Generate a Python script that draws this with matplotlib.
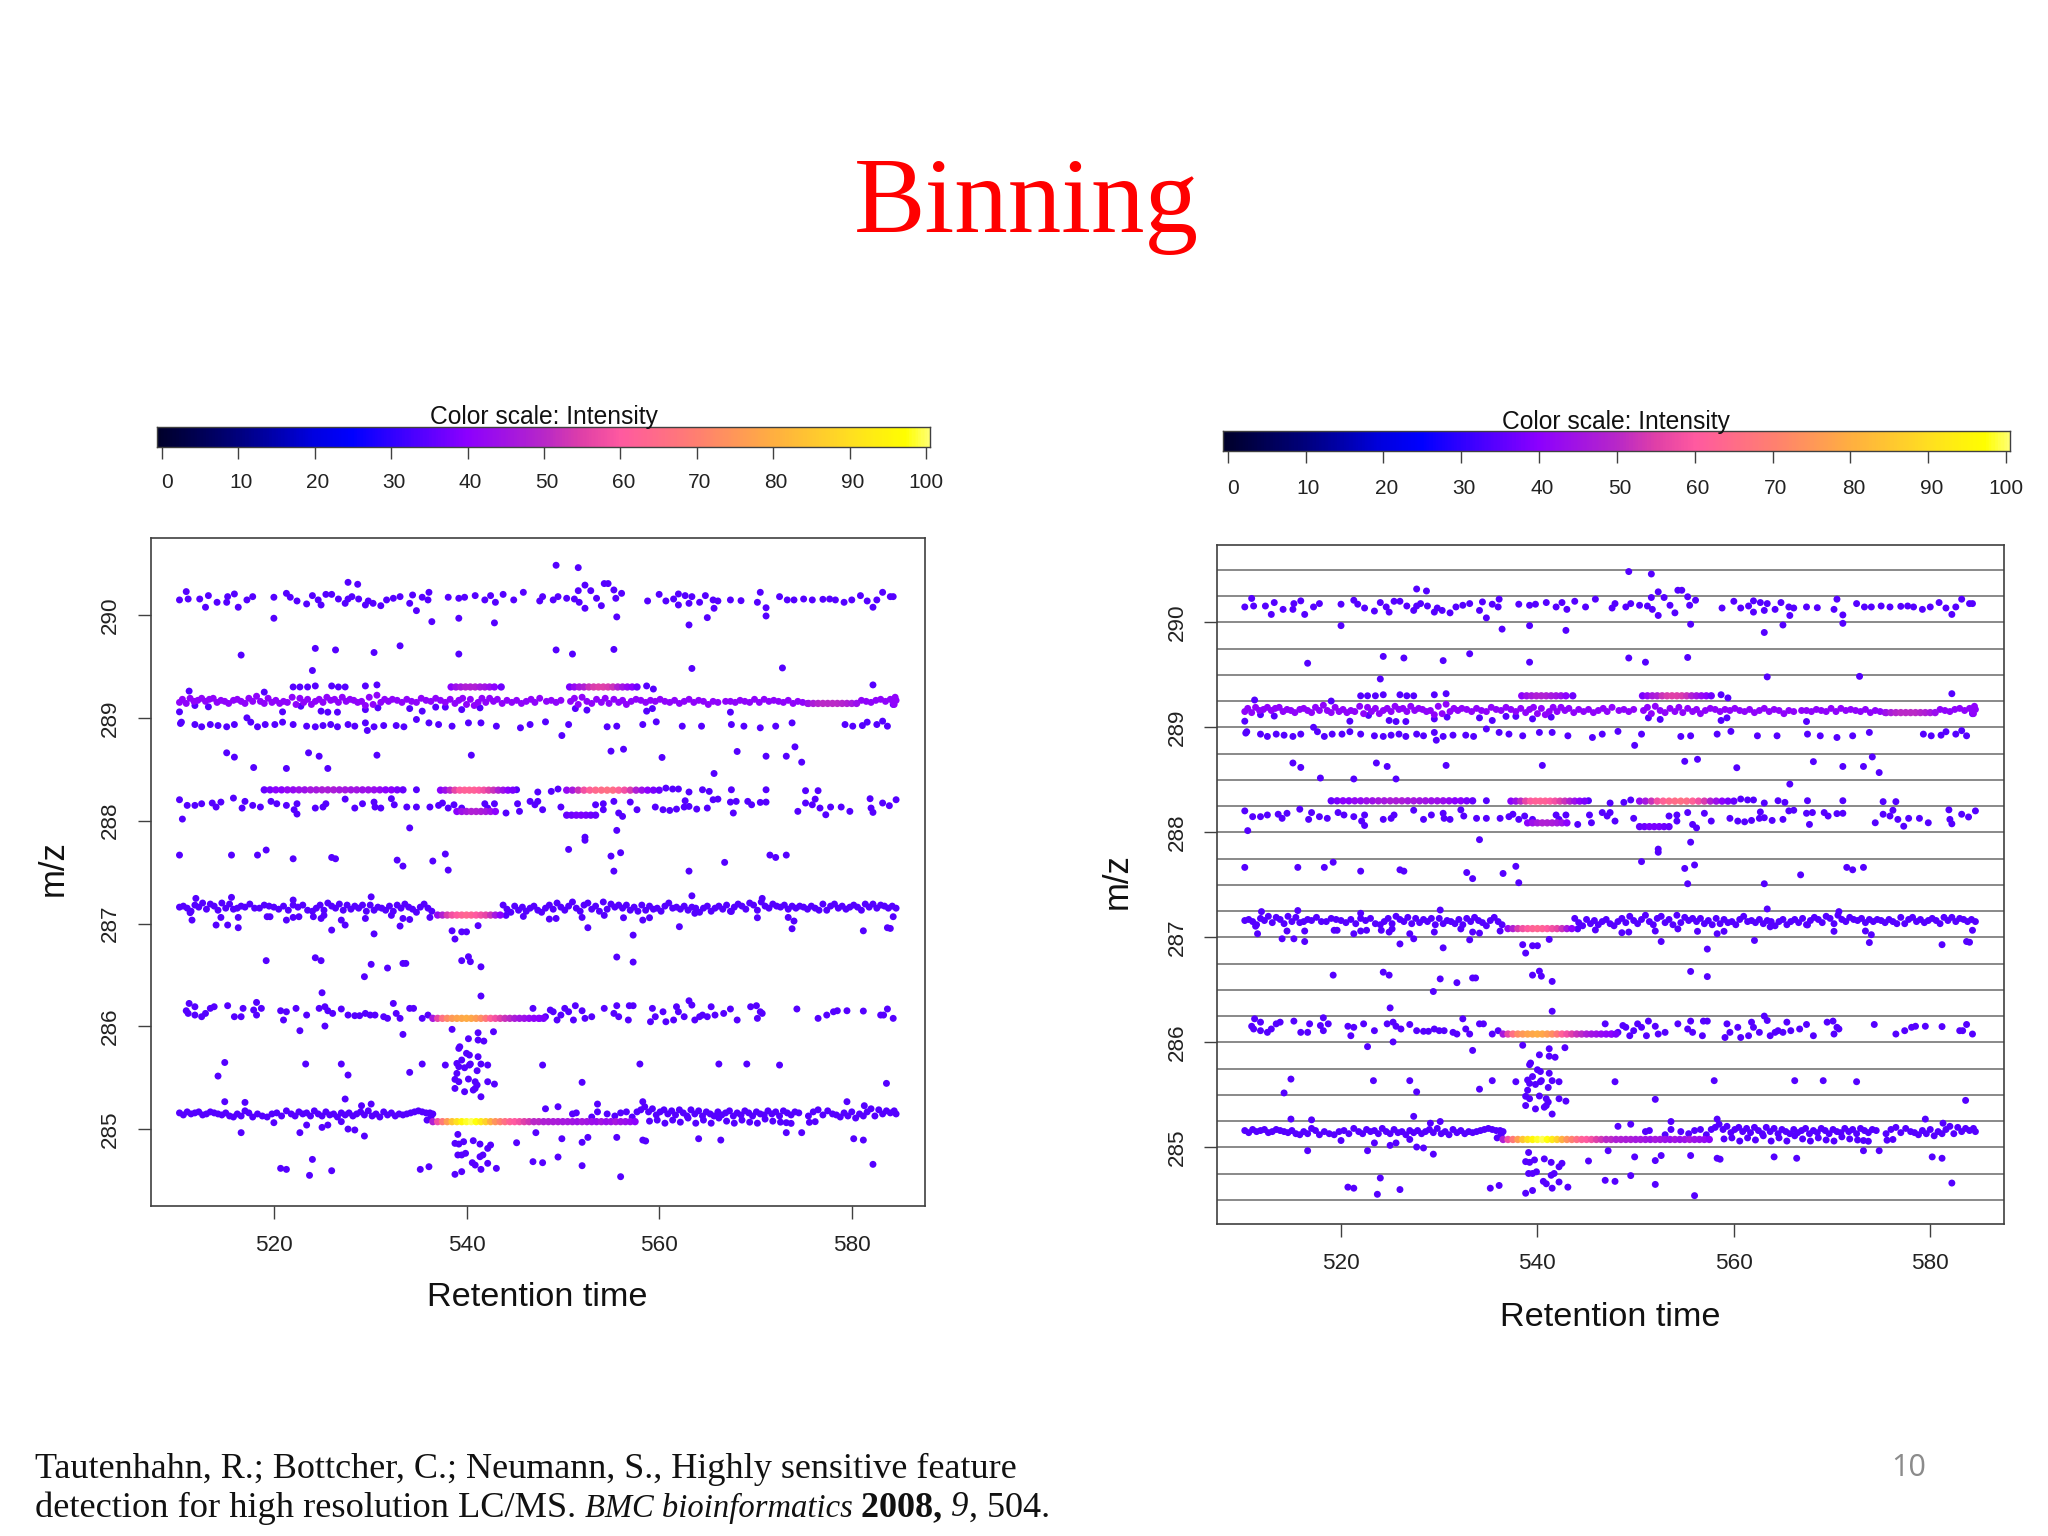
import numpy as np
import matplotlib
matplotlib.use("Agg")
import matplotlib.pyplot as plt
from matplotlib.colors import LinearSegmentedColormap

W, H = 2048, 1536

# values, both panels show the same peaks
# row around m/z 290
rt_290 = [510.2, 510.9, 511.1, 512.3, 512.9, 513.2, 514.1, 515.1, 515.2, 515.9,
          516.3, 517.2, 517.8, 520.0, 521.3, 521.7, 522.4, 523.4, 524.0, 524.6,
          524.9, 525.4, 526.0, 526.7, 527.4, 527.7, 528.1, 528.8, 529.5, 529.8,
          530.3, 531.1, 531.7, 532.4, 533.1, 534.1, 534.4, 535.4, 536.0, 536.1,
          538.1, 539.2, 539.8, 540.9, 541.9, 542.5, 543.0, 543.8, 544.9, 545.9,
          547.6, 547.9, 549.0, 549.5, 550.4, 551.2, 551.7, 551.6, 552.3, 552.9,
          553.5, 554.0, 552.3, 554.3, 554.7, 555.3, 555.5, 556.1, 558.8, 560.0,
          560.7, 561.5, 562.0, 562.7, 562.0, 563.1, 563.4, 564.2, 564.8, 565.6,
          566.1, 565.7, 567.4, 568.5, 570.2, 570.5, 571.1, 572.5, 573.3, 574.0,
          575.0, 575.9, 577.0, 577.7, 578.3, 579.2, 580.0, 580.9, 581.6, 582.2,
          582.6, 583.2, 584.0, 584.3, 527.7, 528.7, 549.3, 551.6, 520.0, 534.8,
          536.4, 539.2, 542.9, 555.6, 563.1, 565.0, 571.1]
mz_290 = [290.146, 290.227, 290.155, 290.155, 290.075, 290.188, 290.123, 290.123, 290.178, 290.204,
          290.075, 290.146, 290.178, 290.172, 290.210, 290.172, 290.136, 290.107, 290.188, 290.146,
          290.097, 290.200, 290.200, 290.155, 290.113, 290.155, 290.178, 290.155, 290.097, 290.136,
          290.113, 290.090, 290.146, 290.162, 290.178, 290.113, 290.194, 290.172, 290.146, 290.220,
          290.172, 290.162, 290.172, 290.188, 290.146, 290.188, 290.123, 290.200, 290.146, 290.220,
          290.136, 290.178, 290.146, 290.178, 290.162, 290.155, 290.123, 290.236, 290.290, 290.236,
          290.162, 290.090, 290.065, 290.305, 290.305, 290.243, 290.162, 290.210, 290.136, 290.200,
          290.136, 290.155, 290.204, 290.188, 290.097, 290.113, 290.178, 290.123, 290.188, 290.146,
          290.136, 290.065, 290.146, 290.139, 290.123, 290.220, 290.070, 290.178, 290.146, 290.146,
          290.155, 290.146, 290.152, 290.155, 290.146, 290.123, 290.146, 290.188, 290.136, 290.075,
          290.146, 290.220, 290.178, 290.178, 290.317, 290.298, 290.483, 290.460, 289.968, 290.042,
          289.935, 289.968, 289.923, 289.981, 289.903, 289.974, 289.990]

# scattered points between the rows
rt_gap = [516.6, 524.3, 526.4, 530.4, 533.1, 539.2, 549.3, 551.0, 555.3, 524.0,
          563.4, 572.8, 515.1, 515.9, 517.9, 521.3, 523.6, 524.7, 525.6, 530.7,
          540.5, 555.0, 556.3, 560.3, 565.7, 568.1, 571.1, 573.2, 574.1, 574.8,
          510.5, 534.1, 552.3, 555.6, 510.2, 515.6, 518.3, 519.2, 522.0, 526.0,
          526.4, 532.8, 533.4, 536.5, 537.8, 538.1, 550.6, 552.3, 555.0, 556.0,
          555.3, 563.1, 566.8, 571.5, 572.1, 573.2, 519.2, 524.3, 524.9, 530.1,
          529.4, 531.8, 533.4, 533.7, 539.5, 540.2, 540.4, 541.5, 555.6, 557.3,
          514.9, 523.3, 527.0, 535.4, 514.2, 527.7, 534.1, 547.9, 558.0, 566.2,
          569.1, 572.5, 552.0, 583.6]
mz_gap = [289.610, 289.675, 289.660, 289.635, 289.700, 289.620, 289.660, 289.620, 289.665, 289.460,
          289.480, 289.485, 288.660, 288.618, 288.517, 288.508, 288.660, 288.627, 288.508, 288.637,
          288.637, 288.676, 288.695, 288.615, 288.459, 288.673, 288.627, 288.627, 288.718, 288.569,
          288.016, 287.930, 287.840, 287.906, 287.666, 287.666, 287.666, 287.715, 287.630, 287.643,
          287.630, 287.617, 287.559, 287.608, 287.676, 287.520, 287.721, 287.810, 287.656, 287.689,
          287.510, 287.510, 287.595, 287.666, 287.643, 287.666, 286.640, 286.668, 286.640, 286.604,
          286.484, 286.568, 286.613, 286.613, 286.640, 286.678, 286.630, 286.580, 286.675, 286.626,
          285.650, 285.635, 285.635, 285.635, 285.518, 285.528, 285.554, 285.625, 285.635, 285.635,
          285.635, 285.625, 285.457, 285.447]

# upper part of the 289 group
rt_289a = [522.0, 522.7, 523.5, 524.3, 526.0, 526.7, 527.4, 529.5, 530.7, 558.7,
           559.4, 511.2, 519.0, 582.2, 510.2, 511.8, 513.2, 520.9, 522.8, 524.9,
           525.6, 526.6, 529.5, 530.8, 534.1, 535.4, 536.8, 537.8, 539.5, 541.4,
           551.3, 552.5, 558.7, 559.3, 567.4, 584.3]
mz_289a = [289.300, 289.300, 289.300, 289.310, 289.310, 289.300, 289.300, 289.310, 289.320, 289.310,
           289.280, 289.260, 289.250, 289.320, 289.058, 289.120, 289.107, 289.058, 289.113, 289.065,
           289.055, 289.055, 289.080, 289.097, 289.090, 289.065, 289.104, 289.104, 289.080, 289.097,
           289.090, 289.075, 289.065, 289.090, 289.055, 289.130]

# row just below 289
rt_289b = [510.3, 510.4, 511.8, 512.5, 513.4, 514.2, 515.1, 515.9, 517.2, 517.6,
           518.3, 519.1, 520.1, 520.9, 522.0, 523.4, 524.3, 525.1, 525.9, 526.6,
           527.7, 528.4, 529.5, 529.7, 530.4, 531.4, 532.7, 533.5, 534.8, 536.1,
           537.1, 538.5, 540.2, 541.5, 543.1, 545.6, 546.6, 548.2, 550.6, 549.9,
           554.6, 555.6, 558.3, 559.7, 562.4, 564.4, 567.5, 568.8, 570.5, 572.1,
           573.8, 579.3, 580.1, 581.1, 581.6, 582.6, 583.2, 583.7]
mz_289b = [288.945, 288.958, 288.935, 288.913, 288.935, 288.925, 288.913, 288.935, 289.000, 288.958,
           288.913, 288.935, 288.935, 288.958, 288.935, 288.919, 288.913, 288.925, 288.935, 288.913,
           288.935, 288.919, 288.951, 288.877, 288.913, 288.925, 288.925, 288.913, 288.984, 288.951,
           288.935, 288.919, 288.951, 288.951, 288.919, 288.903, 288.935, 288.961, 288.935, 288.828,
           288.913, 288.919, 288.935, 288.961, 288.919, 288.919, 288.935, 288.919, 288.903, 288.919,
           288.951, 288.935, 288.919, 288.925, 288.958, 288.935, 288.968, 288.919]

# row at 288.15
rt_288 = [510.2, 511.0, 511.8, 512.5, 513.6, 514.0, 514.5, 515.8, 516.7, 517.0,
          517.8, 518.6, 519.7, 520.3, 521.3, 522.4, 522.4, 522.1, 524.3, 525.1,
          525.4, 527.4, 528.4, 529.2, 530.4, 530.5, 531.1, 532.2, 532.5, 533.8,
          534.8, 536.2, 537.1, 537.5, 538.1, 538.7, 539.5, 541.9, 542.9, 542.2,
          544.1, 545.3, 545.5, 546.6, 547.4, 547.1, 547.9, 549.8, 553.4, 554.2,
          554.2, 555.3, 555.8, 556.2, 557.0, 557.7, 559.6, 560.4, 561.1, 561.8,
          562.6, 562.7, 563.1, 563.9, 565.0, 565.6, 566.1, 567.4, 567.7, 568.0,
          569.2, 569.6, 570.5, 571.1, 574.4, 575.2, 575.9, 576.2, 576.7, 577.3,
          577.8, 578.9, 579.8, 581.9, 582.0, 582.2, 583.2, 583.9, 584.6,
          534.8, 545.2, 547.4, 548.8, 549.5, 560.7, 561.4, 562.0, 563.1, 564.5,
          565.2, 567.5, 571.1, 575.2, 576.5]
mz_288 = [288.204, 288.149, 288.149, 288.165, 288.172, 288.133, 288.181, 288.220, 288.123, 288.188,
          288.149, 288.133, 288.188, 288.165, 288.149, 288.165, 288.065, 288.107, 288.123, 288.133,
          288.165, 288.210, 288.123, 288.165, 288.181, 288.133, 288.123, 288.214, 288.155, 288.133,
          288.133, 288.133, 288.149, 288.172, 288.123, 288.155, 288.123, 288.165, 288.165, 288.123,
          288.075, 288.165, 288.091, 288.188, 288.188, 288.155, 288.107, 288.133, 288.155, 288.165,
          288.107, 288.188, 288.075, 288.042, 288.181, 288.107, 288.133, 288.107, 288.100, 288.113,
          288.133, 288.194, 288.139, 288.113, 288.123, 288.204, 288.210, 288.181, 288.075, 288.188,
          288.188, 288.155, 288.178, 288.181, 288.091, 288.172, 288.155, 288.210, 288.123, 288.058,
          288.133, 288.133, 288.091, 288.214, 288.123, 288.081, 288.172, 288.146, 288.204,
          288.301, 288.301, 288.279, 288.285, 288.308, 288.317, 288.308, 288.308, 288.279, 288.301,
          288.285, 288.301, 288.301, 288.292, 288.292]

# around the 287 row, off the main line
rt_287 = [511.9, 515.6, 511.3, 511.5, 514.0, 514.5, 515.2, 516.3, 516.3, 519.3,
          519.6, 521.3, 522.0, 522.0, 522.6, 524.1, 524.9, 525.2, 526.0, 527.0,
          527.4, 529.5, 530.1, 530.4, 532.2, 533.1, 533.4, 534.1, 536.2, 538.5,
          538.8, 539.5, 540.0, 541.2, 544.1, 545.9, 548.6, 549.3, 552.0, 552.6,
          554.3, 556.3, 557.3, 558.3, 559.0, 562.1, 563.4, 563.7, 570.2, 573.4,
          574.0, 573.8, 581.2, 583.7, 584.0, 584.3, 567.5, 570.7]
mz_287 = [287.245, 287.255, 287.106, 287.034, 286.986, 287.060, 286.986, 287.060, 286.960, 287.067,
          287.067, 287.034, 287.229, 287.060, 287.067, 287.067, 287.050, 287.080, 286.937, 287.034,
          286.986, 287.050, 287.260, 286.900, 287.080, 286.976, 287.050, 287.040, 287.060, 286.930,
          286.850, 286.920, 286.920, 286.980, 287.080, 287.070, 287.044, 287.050, 287.060, 286.960,
          287.080, 287.057, 286.888, 287.034, 287.057, 286.970, 287.270, 287.100, 287.057, 287.060,
          287.025, 286.950, 286.930, 286.960, 286.953, 287.067, 287.118, 287.245]

# row at 286.1
rt_286 = [510.9, 511.2, 511.1, 511.8, 511.8, 512.5, 512.9, 513.4, 513.8, 515.2,
          515.9, 516.6, 516.8, 517.9, 518.2, 518.2, 518.7, 520.7, 521.0, 521.3,
          522.3, 523.4, 524.7, 525.3, 525.6, 526.1, 527.0, 527.7, 528.4, 528.9,
          529.5, 530.0, 530.5, 531.4, 531.8, 532.4, 532.7, 533.1, 534.1, 534.5,
          535.4, 536.0, 522.7, 525.3, 525.0, 541.5, 533.4,
          546.9, 547.6, 548.2, 548.7, 549.0, 549.4, 549.8, 550.2, 550.6, 551.1,
          551.3, 552.0, 552.3, 553.0, 554.3, 555.3, 555.6, 555.8, 556.8, 556.9,
          557.3, 559.1, 559.3, 559.6, 560.7, 560.4, 561.5, 561.8, 562.0, 562.6,
          563.1, 563.4, 563.7, 564.2, 564.5, 565.0, 565.4, 565.8, 566.7, 567.4,
          568.1, 569.5, 570.1, 570.2, 570.5, 570.7, 574.3, 576.5, 577.4, 578.1,
          578.5, 579.5, 581.2, 583.0, 583.7, 583.3, 584.3]
mz_286 = [286.153, 286.224, 286.127, 286.111, 286.192, 286.095, 286.127, 286.176, 286.192, 286.202,
          286.095, 286.095, 286.176, 286.160, 286.234, 286.111, 286.176, 286.153, 286.063, 286.143,
          286.176, 286.111, 286.176, 286.192, 286.153, 286.127, 286.170, 286.111, 286.105, 286.105,
          286.127, 286.111, 286.111, 286.095, 286.079, 286.224, 286.127, 286.079, 286.176, 286.176,
          286.079, 286.111, 285.959, 286.004, 286.328, 286.296, 285.923,
          286.176, 286.079, 286.095, 286.160, 286.143, 286.063, 286.111, 286.176, 286.143, 286.063,
          286.202, 286.153, 286.079, 286.095, 286.176, 286.127, 286.202, 286.095, 286.063, 286.202,
          286.202, 286.046, 286.176, 286.095, 286.046, 286.143, 286.063, 286.192, 286.143, 286.095,
          286.250, 286.208, 286.063, 286.095, 286.111, 286.095, 286.192, 286.111, 286.127, 286.170,
          286.063, 286.192, 286.202, 286.079, 286.143, 286.127, 286.170, 286.079, 286.111, 286.143,
          286.153, 286.153, 286.150, 286.111, 286.170, 286.111, 286.079]

# column under the 286 ridge
rt_col = [538.5, 541.2, 542.8, 540.2, 541.2, 541.8, 539.3, 539.2, 540.0, 540.3,
          541.2, 539.5, 540.4, 541.5, 542.2, 537.8, 539.0, 539.2, 539.8, 540.3,
          539.0, 541.1, 538.8, 539.2, 540.2, 540.9, 542.2, 542.9, 541.1, 540.9,
          540.7, 538.8, 539.8, 541.5]
mz_col = [285.972, 285.939, 285.949, 285.881, 285.868, 285.858, 285.803, 285.787, 285.739, 285.722,
          285.706, 285.674, 285.635, 285.635, 285.625, 285.625, 285.641, 285.609, 285.599, 285.625,
          285.544, 285.570, 285.486, 285.463, 285.489, 285.463, 285.463, 285.440, 285.431, 285.398,
          285.382, 285.398, 285.366, 285.317]

# around the 285 row and below it
rt_285 = [514.9, 517.0, 527.4, 529.1, 530.1, 520.0, 523.4, 522.7, 525.0, 525.6,
          527.0, 527.7, 528.4, 529.4, 516.6, 548.2, 549.5, 553.6, 558.3, 579.5,
          581.3, 547.2, 573.2, 574.8, 573.2, 573.7, 575.6, 576.2,
          539.1, 538.8, 539.2, 539.7, 540.7, 541.4, 542.5, 542.2, 539.1, 539.5,
          539.9, 541.4, 541.7, 540.6, 540.9, 542.2, 541.5, 543.1, 539.5, 538.8,
          545.2, 549.9, 552.0, 552.6, 555.6, 558.3, 558.6, 564.1, 566.4, 580.2,
          581.2, 549.5, 546.9, 547.9, 552.0, 556.0, 582.2, 520.7, 521.3, 524.0,
          523.7, 526.0, 535.2, 536.1]
mz_285 = [285.269, 285.262, 285.295, 285.230, 285.246, 285.065, 285.042, 284.968, 285.019, 285.042,
          285.075, 285.003, 284.994, 284.935, 284.968, 285.200, 285.220, 285.246, 285.269, 285.269,
          285.230, 284.968, 284.968, 284.968, 285.065, 285.058, 285.068, 285.075,
          284.951, 284.864, 284.857, 284.880, 284.890, 284.857, 284.848, 284.815, 284.751, 284.751,
          284.767, 284.734, 284.751, 284.676, 284.653, 284.670, 284.611, 284.621, 284.589, 284.563,
          284.870, 284.909, 284.874, 284.922, 284.922, 284.896, 284.887, 284.909, 284.896, 284.909,
          284.896, 284.731, 284.686, 284.676, 284.647, 284.540, 284.660, 284.621, 284.611, 284.708,
          284.553, 284.598, 284.611, 284.637]

# the long dense lines
main_289_rt = [510.2, 510.5, 510.9, 511.3, 511.7, 512.1, 512.5, 512.9, 513.3, 513.7,
               514.1, 514.5, 514.9, 515.3, 515.8, 516.2, 516.6, 517.0, 517.4, 517.8,
               518.2, 518.6, 519.0, 519.4, 519.8, 520.2, 520.6, 521.0, 521.4, 521.9,
               522.3, 522.7, 523.1, 523.5, 523.9, 524.3, 524.7, 525.1, 525.5, 525.9,
               526.3, 526.7, 527.1, 527.5, 527.9, 528.3, 528.7, 529.1, 529.5, 529.9,
               530.3, 530.7, 531.1, 531.5, 531.9, 532.3, 532.8, 533.3, 533.8, 534.3,
               534.8, 535.3, 535.8, 536.3, 536.8, 537.3, 537.8, 538.3, 538.8, 539.2,
               539.6, 540.0, 540.4, 540.8, 541.2, 541.6, 542.0, 542.4, 542.8, 543.2,
               543.7, 544.2, 544.7, 545.2, 545.7, 546.2, 546.7, 547.1, 547.6, 548.3,
               548.8, 549.3, 549.8, 550.8, 551.2, 551.6, 552.0, 552.5, 553.0, 553.5,
               554.0, 554.4, 554.8, 555.3, 555.8, 556.2, 556.6, 557.1, 557.6, 558.1,
               558.6, 559.1, 559.6, 560.1, 560.6, 561.1, 561.6, 562.1, 562.6, 563.1,
               563.6, 564.1, 564.6, 565.1, 565.6, 566.1, 566.9, 567.4, 567.9, 568.4,
               568.9, 569.4, 569.9, 570.4, 570.9, 571.4, 571.9, 572.4, 572.9, 573.4,
               573.9, 574.4, 574.9, 575.4, 581.0, 581.5, 582.0, 582.5, 583.0, 583.5,
               584.0, 584.3, 584.5, 584.6, 584.4]
main_289_mz = [289.15, 289.18, 289.14, 289.19, 289.16, 289.17, 289.19, 289.16, 289.18, 289.19,
               289.15, 289.17, 289.16, 289.14, 289.17, 289.18, 289.16, 289.14, 289.19, 289.16,
               289.21, 289.16, 289.14, 289.19, 289.15, 289.17, 289.14, 289.16, 289.15, 289.20,
               289.13, 289.19, 289.15, 289.18, 289.13, 289.16, 289.18, 289.15, 289.20, 289.17,
               289.18, 289.15, 289.20, 289.16, 289.18, 289.17, 289.15, 289.16, 289.12, 289.20,
               289.13, 289.22, 289.15, 289.18, 289.16, 289.18, 289.17, 289.15, 289.18, 289.16,
               289.15, 289.19, 289.17, 289.16, 289.19, 289.17, 289.15, 289.18, 289.14, 289.17,
               289.19, 289.13, 289.18, 289.12, 289.15, 289.19, 289.15, 289.19, 289.16, 289.18,
               289.14, 289.17, 289.15, 289.17, 289.14, 289.16, 289.18, 289.15, 289.19, 289.16,
               289.17, 289.15, 289.17, 289.16, 289.19, 289.13, 289.20, 289.16, 289.14, 289.18,
               289.15, 289.19, 289.14, 289.18, 289.15, 289.17, 289.13, 289.16, 289.18, 289.17,
               289.15, 289.17, 289.16, 289.18, 289.16, 289.15, 289.17, 289.14, 289.16, 289.18,
               289.15, 289.17, 289.16, 289.13, 289.16, 289.15, 289.16, 289.16, 289.15, 289.17,
               289.16, 289.15, 289.18, 289.15, 289.18, 289.16, 289.17, 289.16, 289.15, 289.17,
               289.14, 289.16, 289.15, 289.14, 289.17, 289.16, 289.15, 289.17, 289.18, 289.16,
               289.18, 289.15, 289.20, 289.17, 289.13]

main_287_rt = [510.2, 510.6, 511.0, 511.4, 511.8, 512.2, 512.6, 513.0, 513.4, 513.8,
               514.2, 514.6, 515.0, 515.4, 515.8, 516.2, 516.6, 517.0, 517.5, 518.0,
               518.5, 519.0, 519.5, 520.0, 520.5, 521.0, 521.5, 522.0, 522.5, 523.0,
               523.5, 524.0, 524.4, 524.8, 525.2, 525.6, 526.0, 526.4, 526.8, 527.2,
               527.6, 528.0, 528.4, 528.8, 529.2, 529.6, 530.0, 530.4, 530.8, 531.2,
               531.6, 532.0, 532.4, 532.8, 533.2, 533.6, 534.0, 534.4, 534.8, 535.2,
               535.6, 536.0, 536.4, 543.8, 544.2, 544.6, 545.0, 545.4, 545.8, 546.2,
               546.6, 547.0, 547.4, 547.8, 548.2, 548.6, 549.0, 549.4, 549.8, 550.2,
               550.6, 551.0, 551.4, 551.8, 552.2, 552.6, 553.0, 553.4, 553.8, 554.2,
               554.6, 555.0, 555.4, 555.8, 556.2, 556.6, 557.0, 557.4, 557.8, 558.2,
               558.6, 559.0, 559.4, 559.8, 560.2, 560.6, 561.0, 561.4, 561.8, 562.2,
               562.6, 563.0, 563.4, 563.8, 564.2, 564.6, 565.0, 565.4, 565.8, 566.2,
               566.6, 567.0, 567.4, 567.8, 568.2, 568.6, 569.0, 569.4, 569.8, 570.2,
               570.6, 571.0, 571.4, 571.8, 572.2, 572.6, 573.0, 573.4, 573.8, 574.2,
               574.6, 575.0, 575.4, 575.8, 576.2, 576.6, 577.0, 577.4, 577.8, 578.2,
               578.6, 579.0, 579.4, 579.8, 580.2, 580.6, 581.0, 581.4, 581.8, 582.2,
               582.6, 583.0, 583.4, 583.8, 584.2, 584.6]
main_287_mz = [287.16, 287.17, 287.15, 287.12, 287.18, 287.16, 287.20, 287.14, 287.19, 287.17,
               287.13, 287.20, 287.15, 287.19, 287.14, 287.15, 287.17, 287.16, 287.19, 287.15,
               287.15, 287.18, 287.17, 287.16, 287.14, 287.17, 287.13, 287.18, 287.16, 287.18,
               287.13, 287.12, 287.15, 287.18, 287.13, 287.20, 287.17, 287.15, 287.19, 287.13,
               287.18, 287.14, 287.17, 287.15, 287.18, 287.12, 287.18, 287.13, 287.16, 287.15,
               287.13, 287.17, 287.12, 287.18, 287.15, 287.19, 287.16, 287.14, 287.11, 287.16,
               287.19, 287.15, 287.12, 287.18, 287.14, 287.11, 287.17, 287.13, 287.16, 287.12,
               287.15, 287.17, 287.13, 287.11, 287.15, 287.18, 287.14, 287.20, 287.16, 287.13,
               287.17, 287.21, 287.15, 287.12, 287.18, 287.20, 287.14, 287.17, 287.12, 287.21,
               287.14, 287.19, 287.16, 287.18, 287.15, 287.18, 287.13, 287.16, 287.12, 287.18,
               287.13, 287.17, 287.14, 287.15, 287.12, 287.17, 287.20, 287.15, 287.16, 287.14,
               287.17, 287.13, 287.16, 287.15, 287.11, 287.15, 287.17, 287.12, 287.15, 287.17,
               287.14, 287.18, 287.12, 287.16, 287.19, 287.17, 287.14, 287.20, 287.18, 287.13,
               287.21, 287.17, 287.15, 287.19, 287.17, 287.16, 287.18, 287.14, 287.17, 287.15,
               287.17, 287.16, 287.14, 287.17, 287.15, 287.13, 287.19, 287.13, 287.17, 287.19,
               287.15, 287.17, 287.14, 287.16, 287.18, 287.16, 287.13, 287.19, 287.16, 287.19,
               287.15, 287.18, 287.17, 287.15, 287.17, 287.15]

main_285_rt = [510.2, 510.6, 511.0, 511.4, 511.8, 512.2, 512.6, 513.0, 513.4, 513.8,
               514.2, 514.6, 515.0, 515.4, 515.8, 516.2, 516.6, 517.0, 517.4, 517.8,
               518.3, 518.8, 519.3, 519.8, 520.3, 520.8, 521.3, 521.8, 522.2, 522.6,
               523.0, 523.4, 523.8, 524.2, 524.6, 525.0, 525.4, 525.8, 526.2, 526.6,
               527.0, 527.4, 527.8, 528.2, 528.6, 529.0, 529.4, 529.8, 530.2, 530.6,
               531.0, 531.4, 531.8, 532.2, 532.6, 533.0, 533.4, 533.8, 534.2, 534.6,
               535.0, 535.4, 535.8, 536.2, 536.5, 535.9, 536.3, 551.0, 551.4, 553.0,
               553.6, 554.6, 555.4, 556.0, 556.6, 557.2, 557.7, 558.1, 558.5, 558.9,
               559.3, 559.7, 560.1, 560.5, 560.9, 561.3, 561.7, 562.1, 562.5, 562.9,
               563.3, 563.7, 564.1, 564.5, 564.9, 565.3, 565.7, 566.1, 566.5, 566.9,
               567.3, 567.7, 568.1, 568.5, 568.9, 569.3, 569.7, 570.1, 570.5, 570.9,
               571.3, 571.7, 572.1, 572.5, 572.9, 573.3, 573.7, 574.1, 574.5, 575.5,
               576.0, 576.5, 577.0, 577.5, 578.0, 578.4, 578.8, 579.2, 579.6, 580.0,
               580.4, 580.8, 581.2, 581.6, 582.0, 582.4, 582.8, 583.2, 583.6, 584.0,
               584.4, 584.6, 559.0, 559.8, 560.6, 561.4, 562.2, 563.0, 563.8, 564.6,
               565.4, 566.2, 567.0, 567.8, 568.6, 569.4, 570.2, 571.0, 571.8, 572.6]
main_285_mz = [285.16, 285.14, 285.17, 285.15, 285.16, 285.17, 285.14, 285.15, 285.17, 285.16,
               285.15, 285.14, 285.16, 285.13, 285.12, 285.15, 285.13, 285.18, 285.16, 285.12,
               285.15, 285.13, 285.12, 285.15, 285.16, 285.13, 285.18, 285.15, 285.13, 285.17,
               285.15, 285.16, 285.13, 285.18, 285.15, 285.13, 285.17, 285.14, 285.15, 285.12,
               285.16, 285.14, 285.16, 285.13, 285.15, 285.17, 285.14, 285.18, 285.13, 285.15,
               285.12, 285.17, 285.14, 285.16, 285.13, 285.15, 285.14, 285.15, 285.16, 285.17,
               285.18, 285.17, 285.16, 285.16, 285.15, 285.09, 285.12, 285.15, 285.16, 285.12,
               285.17, 285.15, 285.13, 285.16, 285.17, 285.12, 285.17, 285.19, 285.22, 285.17,
               285.20, 285.14, 285.17, 285.19, 285.15, 285.18, 285.14, 285.19, 285.16, 285.13,
               285.19, 285.15, 285.18, 285.13, 285.17, 285.15, 285.13, 285.17, 285.14, 285.16,
               285.18, 285.13, 285.16, 285.14, 285.18, 285.16, 285.13, 285.17, 285.15, 285.14,
               285.18, 285.15, 285.17, 285.13, 285.18, 285.16, 285.14, 285.17, 285.16, 285.13,
               285.17, 285.19, 285.14, 285.18, 285.15, 285.14, 285.12, 285.16, 285.13, 285.17,
               285.11, 285.15, 285.13, 285.17, 285.20, 285.13, 285.19, 285.15, 285.18, 285.16,
               285.18, 285.15, 285.08, 285.09, 285.06, 285.09, 285.07, 285.11, 285.06, 285.09,
               285.06, 285.11, 285.08, 285.06, 285.09, 285.07, 285.06, 285.10, 285.08, 285.07]

# coloured ridges, one list per trace
ridge_285_rt = [536.5, 537.0, 537.5, 538.0, 538.5, 539.0, 539.5, 540.0, 540.5, 541.0,
                541.5, 542.0, 542.5, 543.0, 543.5, 544.0, 544.5, 545.0, 545.5, 546.0,
                546.5, 547.0, 547.5, 548.0, 548.5, 549.0, 549.5, 550.0, 550.5, 551.0,
                551.5, 552.0, 552.5, 553.0, 553.5, 554.0, 554.5, 555.0, 555.5, 556.0,
                556.5, 557.0, 557.5]
ridge_285_int = [48, 58, 68, 76, 84, 90, 95, 98, 99, 97,
                 92, 87, 80, 74, 70, 66, 62, 60, 58, 55,
                 53, 50, 50, 48, 48, 47, 47, 46, 46, 45,
                 44, 46, 45, 44, 43, 45, 43, 44, 46, 44,
                 43, 42, 40]
ridge_286_rt = [536.5, 537.0, 537.5, 538.0, 538.5, 539.0, 539.5, 540.0, 540.5, 541.0,
                541.5, 542.0, 542.5, 543.0, 543.5, 544.0, 544.5, 545.0, 545.5, 546.0,
                546.5, 547.0, 547.5, 548.0]
ridge_286_int = [46, 56, 66, 72, 75, 77, 78, 79, 78, 76,
                 73, 68, 62, 58, 55, 52, 50, 47, 45, 44,
                 42, 41, 40, 38]
ridge_287_rt = [537.0, 537.5, 538.0, 538.5, 539.0, 539.5, 540.0, 540.5, 541.0, 541.5,
                542.0, 542.5, 543.0, 543.5]
ridge_287_int = [42, 48, 54, 58, 60, 62, 63, 62, 60, 58, 56, 52, 46, 40]
ridge_288a_rt = [519.0, 519.6, 520.2, 520.8, 521.4, 522.0, 522.6, 523.2, 523.8, 524.4,
                 525.0, 525.6, 526.2, 526.8, 527.4, 528.0, 528.6, 529.2, 529.8, 530.4,
                 531.0, 531.6, 532.2, 532.8, 533.4]
ridge_288a_int = [36, 38, 40, 40, 42, 42, 44, 44, 46, 46,
                  47, 47, 47, 46, 46, 45, 45, 44, 44, 43,
                  42, 40, 40, 38, 36]
ridge_288b_rt = [537.3, 537.8, 538.3, 538.8, 539.3, 539.8, 540.3, 540.8, 541.3, 541.8,
                 542.3, 542.8, 543.3, 543.8, 544.3, 544.8]
ridge_288b_int = [40, 44, 50, 56, 60, 62, 62, 62, 60, 58, 55, 52, 48, 44, 40, 38]
ridge_288c_rt = [550.4, 551.0, 551.6, 552.2, 552.8, 553.4, 554.0, 554.6, 555.2, 555.8,
                 556.4, 557.0, 557.6, 558.2, 558.8, 559.4, 560.0]
ridge_288c_int = [42, 46, 52, 58, 62, 64, 65, 66, 65, 62, 58, 54, 48, 44, 40, 38, 36]
ridge_288d_rt = [539.0, 539.5, 540.0, 540.5, 541.0, 541.5, 542.0, 542.5, 543.0]
ridge_288d_int = [40, 44, 46, 48, 48, 47, 46, 44, 40]
ridge_288e_rt = [550.4, 550.9, 551.4, 551.9, 552.4, 552.9, 553.4]
ridge_288e_int = [36, 37, 38, 38, 38, 37, 36]
ridge_289a_rt = [538.4, 538.9, 539.4, 539.9, 540.4, 540.9, 541.4, 541.9, 542.4, 542.9, 543.6]
ridge_289a_int = [40, 44, 46, 48, 48, 48, 46, 45, 43, 40, 37]
ridge_289b_rt = [550.7, 551.2, 551.7, 552.2, 552.7, 553.2, 553.7, 554.2, 554.7, 555.2,
                 555.7, 556.2, 556.7, 557.2, 557.7]
ridge_289b_int = [38, 42, 46, 48, 52, 54, 55, 55, 54, 52, 48, 45, 42, 40, 37]
ridge_289c_rt = [575.5, 576.0, 576.5, 577.0, 577.5, 578.0, 578.5, 579.0, 579.5, 580.0, 580.5]
ridge_289c_int = [44, 47, 49, 50, 50, 50, 50, 49, 48, 46, 43]

ridges = [
    (ridge_285_rt, 285.075, ridge_285_int),
    (ridge_286_rt, 286.079, ridge_286_int),
    (ridge_287_rt, 287.083, ridge_287_int),
    (ridge_288a_rt, 288.300, ridge_288a_int),
    (ridge_288b_rt, 288.297, ridge_288b_int),
    (ridge_288c_rt, 288.297, ridge_288c_int),
    (ridge_288d_rt, 288.090, ridge_288d_int),
    (ridge_288e_rt, 288.054, ridge_288e_int),
    (ridge_289a_rt, 289.300, ridge_289a_int),
    (ridge_289b_rt, 289.300, ridge_289b_int),
    (ridge_289c_rt, 289.140, ridge_289c_int),
]

sparse_rt = (rt_290 + rt_gap + rt_289a + rt_289b + rt_288 + rt_287 + rt_286 + rt_col + rt_285
             + main_287_rt + main_285_rt)
sparse_mz = (mz_290 + mz_gap + mz_289a + mz_289b + mz_288 + mz_287 + mz_286 + mz_col + mz_285
             + main_287_mz + main_285_mz)
sparse_intensity = 34
main_289_intensity = 41

intensity_ticks = [0, 10, 20, 30, 40, 50, 60, 70, 80, 90, 100]
rt_ticks = [520, 540, 560, 580]
mz_ticks = [285, 286, 287, 288, 289, 290]
grid_mz = [290.5, 290.25, 290, 289.75, 289.5, 289.25, 289, 288.75, 288.5, 288.25,
           288, 287.75, 287.5, 287.25, 287, 286.75, 286.5, 286.25, 286, 285.75,
           285.5, 285.25, 285, 284.75, 284.5]

cmap = LinearSegmentedColormap.from_list("intensity", [
    (0.00, "#00002b"), (0.10, "#00007a"), (0.20, "#0000e0"), (0.25, "#0000ff"),
    (0.33, "#4a00ff"), (0.40, "#8c00ff"), (0.50, "#b828c8"), (0.55, "#e040a8"),
    (0.60, "#ff5aa0"), (0.70, "#ff8070"), (0.80, "#ffb040"), (0.90, "#ffe020"),
    (0.97, "#ffff00"), (1.00, "#ffff70")])

plt.rcParams["font.family"] = ["Liberation Sans", "DejaVu Sans"]
DARK = "#404040"
fig = plt.figure(figsize=(W / 100, H / 100), dpi=100, facecolor="white")


def px_axes(left, top, right, bottom):
    return fig.add_axes([left / W, 1 - bottom / H, (right - left) / W, (bottom - top) / H])


def px_text(x, y, s, **kw):
    kw.setdefault("ha", "center")
    kw.setdefault("va", "center")
    return fig.text(x / W, 1 - y / H, s, **kw)


def draw_panel(box, xlim, ylim, bar, bar_lim, bar_label_y, title_xy, xlabel_xy, ylabel_xy, grid=False):
    ax = px_axes(*box)
    ax.set_xlim(*xlim)
    ax.set_ylim(*ylim)
    if grid:
        for m in grid_mz:
            ax.axhline(m, color="#808080", lw=1.3, zorder=1)
    ax.scatter(sparse_rt, sparse_mz, c=[sparse_intensity] * len(sparse_rt), cmap=cmap,
               vmin=0, vmax=100, s=25, linewidths=0, zorder=2)
    ax.scatter(main_289_rt, main_289_mz, c=[main_289_intensity] * len(main_289_rt), cmap=cmap,
               vmin=0, vmax=100, s=25, linewidths=0, zorder=2)
    for rt, mz, inten in ridges:
        ax.scatter(rt, [mz] * len(rt), c=inten, cmap=cmap, vmin=0, vmax=100,
                   s=28, linewidths=0, zorder=3)
    ax.set_xticks(rt_ticks)
    ax.set_yticks(mz_ticks)
    ax.tick_params(axis="x", length=9.5, width=1.0, color=DARK, labelsize=16.2, pad=11.5, labelcolor="#222222")
    ax.tick_params(axis="y", length=9.5, width=1.0, color=DARK, labelsize=16.2, pad=11.5, labelcolor="#222222")
    for t in ax.get_yticklabels():
        t.set_rotation(90)
        t.set_va("center")
    for s in ax.spines.values():
        s.set_color(DARK)
        s.set_linewidth(1.2)

    cb = px_axes(*bar)
    cb.imshow(np.linspace(0, 100, 600).reshape(1, -1), cmap=cmap, vmin=0, vmax=100, aspect="auto",
              extent=[bar_lim[0], bar_lim[1], 0, 1])
    cb.set_xlim(*bar_lim)
    cb.set_xticks(intensity_ticks)
    cb.set_xticklabels([])
    cb.set_yticks([])
    cb.tick_params(axis="x", length=8.5, width=1.0, color=DARK)
    for s in cb.spines.values():
        s.set_color(DARK)
        s.set_linewidth(1.0)
    for v in intensity_ticks:
        lx = bar[0] + (v - bar_lim[0]) / (bar_lim[1] - bar_lim[0]) * (bar[2] - bar[0])
        off = 5 if v == 0 else (0 if v == 100 else 3)
        px_text(lx + off, bar_label_y, str(v), fontsize=15, color="#222222")
    px_text(*title_xy, "Color scale: Intensity", fontsize=17.7, color="#111111")
    px_text(*xlabel_xy, "Retention time", fontsize=24.7, color="#111111")
    px_text(*ylabel_xy, "m/z", fontsize=25, rotation=90, color="#111111")


draw_panel((150.5, 538, 924.5, 1205.7), (507.19, 587.55), (284.258, 290.748),
           (156.7, 426.7, 929.8, 446.7), (-0.69, 100.5), 483, (544, 417), (537, 1297), (53.5, 868))
draw_panel((1216.7, 545, 2003.9, 1224), (507.34, 587.5), (284.27, 290.736),
           (1222.5, 431, 2009.6, 451.3), (-0.67, 100.45), 488, (1616, 421.5), (1610, 1317), (1117, 881),
           grid=True)

px_text(1026, 206, "Binning", fontsize=77, color="#ff0000", family="Liberation Serif")
px_text(35, 1469, "Tautenhahn, R.; Bottcher, C.; Neumann, S., Highly sensitive feature",
        ha="left", fontsize=26, family="Liberation Serif", color="#111111")

# second footer line changes style, so place the runs one after the other
renderer = fig.canvas.get_renderer()
x = 35
for run, style, weight, size in [("detection for high resolution LC/MS. ", "normal", "normal", 26.2),
                                 ("BMC bioinformatics ", "italic", "normal", 23.5),
                                 ("2008, ", "normal", "bold", 26),
                                 ("9", "italic", "normal", 25),
                                 (", 504.", "normal", "normal", 26)]:
    t = px_text(x, 1508, run.rstrip() + "\u00a0" if run.endswith(" ") else run, ha="left",
                fontsize=size, family="Liberation Serif", style=style, weight=weight, color="#111111")
    x = t.get_window_extent(renderer).x1

px_text(1909, 1468, "10", fontsize=22, color="#8b8b8b", family="Open Sans")

fig.savefig("out.png", dpi=100, facecolor="white")
